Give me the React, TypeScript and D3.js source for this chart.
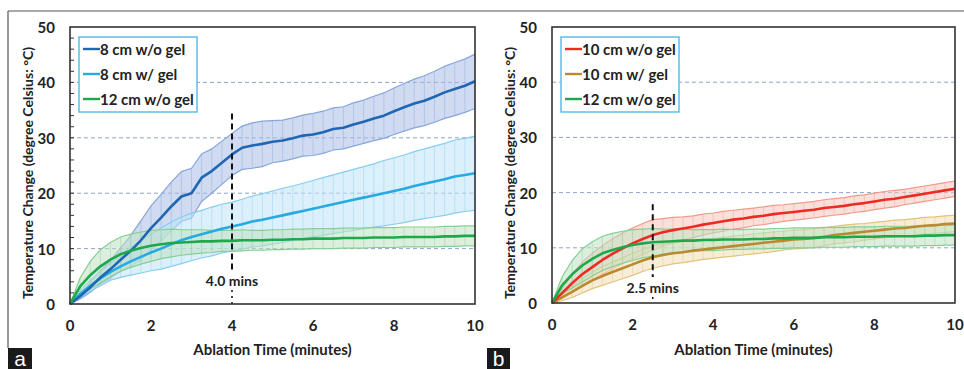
import React from "react";
import * as d3 from "d3";

// sampling times (minutes)
const time = [0, 0.25, 0.5, 0.75, 1, 1.25, 1.5, 1.75, 2, 2.25, 2.5, 2.75, 3, 3.25, 3.5, 3.75, 4, 4.25, 4.5, 4.75, 5, 5.25, 5.5, 5.75, 6, 6.25, 6.5, 6.75, 7, 7.25, 7.5, 7.75, 8, 8.25, 8.5, 8.75, 9, 9.25, 9.5, 9.75, 10];

// panel a
const cm8NoGel = [0, 1.4, 3.0, 4.8, 6.3, 8.0, 9.6, 11.5, 13.7, 15.6, 17.6, 19.4, 20.0, 22.8, 24.0, 25.5, 27.0, 28.2, 28.6, 28.9, 29.3, 29.5, 29.9, 30.4, 30.6, 31.0, 31.6, 31.8, 32.4, 32.9, 33.5, 34.0, 34.8, 35.5, 36.2, 36.7, 37.4, 38.2, 38.8, 39.4, 40.2];
const cm8NoGelSd = [0, 0.5, 0.9, 1.2, 1.6, 2.1, 2.8, 3.5, 4.0, 4.2, 4.4, 4.5, 4.5, 4.3, 4.0, 3.9, 3.8, 3.9, 4.1, 4.1, 3.8, 3.7, 3.7, 3.7, 3.8, 3.8, 3.8, 3.8, 3.9, 3.9, 4.0, 4.1, 4.2, 4.3, 4.4, 4.5, 4.6, 4.7, 4.8, 4.8, 4.9];
const cm8Gel = [0, 1.8, 3.3, 4.6, 5.8, 6.8, 7.7, 8.5, 9.3, 10.0, 10.8, 11.5, 12.1, 12.6, 13.1, 13.6, 14.0, 14.4, 14.9, 15.2, 15.6, 16.0, 16.4, 16.8, 17.2, 17.6, 18.0, 18.4, 18.8, 19.2, 19.6, 20.0, 20.4, 20.8, 21.3, 21.7, 22.1, 22.5, 23.0, 23.3, 23.6];
const cm8GelSd = [0, 0.6, 1.0, 1.3, 1.5, 2.0, 2.5, 2.9, 3.3, 3.7, 4.0, 4.2, 4.3, 4.3, 4.4, 4.4, 4.4, 4.5, 4.6, 4.7, 4.8, 4.9, 4.9, 5.0, 5.1, 5.2, 5.3, 5.4, 5.5, 5.6, 5.7, 5.9, 6.0, 6.1, 6.2, 6.3, 6.4, 6.5, 6.6, 6.6, 6.7];
const cm12NoGel = [0, 3.2, 5.2, 6.8, 8.0, 9.0, 9.6, 10.1, 10.5, 10.8, 11.0, 11.1, 11.2, 11.3, 11.3, 11.4, 11.4, 11.5, 11.5, 11.5, 11.6, 11.6, 11.7, 11.7, 11.8, 11.8, 11.8, 11.9, 11.9, 11.9, 12.0, 12.0, 12.0, 12.1, 12.1, 12.1, 12.1, 12.2, 12.2, 12.3, 12.3];
const cm12NoGelSd = [0, 1.5, 2.5, 3.0, 3.1, 3.1, 3.0, 2.9, 2.8, 2.6, 2.5, 2.3, 2.2, 2.1, 2.0, 1.9, 1.9, 1.9, 1.8, 1.8, 1.8, 1.8, 1.8, 1.8, 1.8, 1.8, 1.8, 1.8, 1.8, 1.8, 1.8, 1.8, 1.8, 1.8, 1.8, 1.8, 1.8, 1.8, 1.8, 1.8, 1.8];

// panel b
const cm10NoGel = [0, 1.8, 3.6, 5.2, 6.5, 7.8, 8.9, 9.9, 10.8, 11.6, 12.3, 12.8, 13.2, 13.5, 13.8, 14.2, 14.5, 14.8, 15.1, 15.3, 15.6, 15.8, 16.1, 16.3, 16.5, 16.7, 16.9, 17.2, 17.4, 17.6, 17.9, 18.1, 18.4, 18.7, 18.9, 19.2, 19.5, 19.8, 20.1, 20.4, 20.7];
const cm10NoGelSd = [0, 0.8, 1.6, 2.2, 2.5, 2.6, 2.7, 2.8, 2.8, 2.8, 2.8, 2.5, 2.3, 2.1, 2.0, 1.9, 1.8, 1.8, 1.7, 1.7, 1.6, 1.6, 1.6, 1.5, 1.5, 1.5, 1.5, 1.5, 1.5, 1.5, 1.5, 1.5, 1.5, 1.5, 1.5, 1.4, 1.4, 1.4, 1.4, 1.4, 1.4];
const cm10Gel = [0, 1.0, 2.0, 3.1, 4.1, 4.9, 5.6, 6.3, 7.0, 7.7, 8.3, 8.7, 9.0, 9.2, 9.5, 9.7, 9.9, 10.1, 10.3, 10.5, 10.7, 10.9, 11.1, 11.3, 11.5, 11.6, 11.8, 12.0, 12.3, 12.5, 12.7, 12.9, 13.1, 13.3, 13.5, 13.6, 13.8, 14.0, 14.1, 14.3, 14.4];
const cm10GelSd = [0, 0.6, 1.0, 1.3, 1.5, 1.7, 1.8, 1.9, 2.0, 2.0, 2.0, 2.0, 1.9, 1.9, 1.9, 1.8, 1.8, 1.8, 1.8, 1.8, 1.8, 1.8, 1.8, 1.7, 1.7, 1.7, 1.7, 1.6, 1.6, 1.6, 1.6, 1.5, 1.5, 1.5, 1.5, 1.5, 1.5, 1.5, 1.5, 1.5, 1.5];

const yTicks = [0, 10, 20, 30, 40, 50];
const xTicks = [0, 2, 4, 6, 8, 10];
const gridValues = [10, 20, 30, 40];
const minorTicks = [2, 4, 6, 8, 12, 14, 16, 18, 22, 24, 26, 28, 32, 34, 36, 38, 42, 44, 46, 48];

const FONT = "Lato, 'Open Sans', sans-serif";

type Series = {
  name: string;
  mean: number[];
  sd: number[];
  line: string;
  band: string;
  edge: string;
};

const seriesA: Series[] = [
  { name: "8 cm w/o gel", mean: cm8NoGel, sd: cm8NoGelSd, line: "#1f66b3", band: "#a9bde6", edge: "#86a6dc" },
  { name: "8 cm w/ gel", mean: cm8Gel, sd: cm8GelSd, line: "#27a9e1", band: "#bfe4f8", edge: "#86cdf0" },
  { name: "12 cm w/o gel", mean: cm12NoGel, sd: cm12NoGelSd, line: "#1ea84b", band: "#bfe2c2", edge: "#86cf94" },
];
const seriesB: Series[] = [
  { name: "10 cm w/o gel", mean: cm10NoGel, sd: cm10NoGelSd, line: "#ee2a24", band: "#f8c4bc", edge: "#f39a8c" },
  { name: "10 cm w/ gel", mean: cm10Gel, sd: cm10GelSd, line: "#b98a2f", band: "#f1dfb6", edge: "#e0c27c" },
  { name: "12 cm w/o gel", mean: cm12NoGel, sd: cm12NoGelSd, line: "#1ea84b", band: "#bfe2c2", edge: "#86cf94" },
];

type PanelProps = {
  left: number;
  right: number;
  top: number;
  bottom: number;
  series: Series[];
  drawOrder: number[];
  marker: number;
  markerTop: number;
  markerLabel: string;
  markerLabelY: number;
  legendX: number;
  minor: boolean;
  letter: string;
  letterX: number;
  letterW: number;
};

function Panel(p: PanelProps) {
  const x = d3.scaleLinear().domain([0, 10]).range([p.left, p.right]);
  const y = d3.scaleLinear().domain([0, 50]).range([p.bottom, p.top]);
  const idx = time.map((_, i) => i);

  const line = (s: Series) =>
    d3.line<number>().x((i) => x(time[i])).y((i) => y(s.mean[i]))(idx) || "";
  const area = (s: Series) =>
    d3
      .area<number>()
      .x((i) => x(time[i]))
      .y0((i) => y(Math.max(0, s.mean[i] - s.sd[i])))
      .y1((i) => y(s.mean[i] + s.sd[i]))(idx) || "";
  const upper = (s: Series) =>
    d3.line<number>().x((i) => x(time[i])).y((i) => y(s.mean[i] + s.sd[i]))(idx) || "";
  const lower = (s: Series) =>
    d3.line<number>().x((i) => x(time[i])).y((i) => y(Math.max(0, s.mean[i] - s.sd[i])))(idx) || "";

  const mx = x(p.marker);
  const cx = (p.left + p.right) / 2;

  return (
    <g>
      {/* grid */}
      {gridValues.map((v) => (
        <line key={v} x1={p.left} x2={p.right} y1={y(v)} y2={y(v)} stroke="#8ea3cc" strokeWidth={1} strokeDasharray="4,3" />
      ))}
      {/* error bands */}
      {p.series.map((s) => (
        <g key={s.name + "band"}>
          <path d={area(s)} fill={s.band} fillOpacity={0.55} />
          {idx.map((i) => (
            <line
              key={i}
              x1={x(time[i])}
              x2={x(time[i])}
              y1={y(Math.max(0, s.mean[i] - s.sd[i]))}
              y2={y(s.mean[i] + s.sd[i])}
              stroke={s.edge}
              strokeOpacity={0.5}
              strokeWidth={0.8}
            />
          ))}
          <path d={upper(s)} fill="none" stroke={s.edge} strokeWidth={1.2} />
          <path d={lower(s)} fill="none" stroke={s.edge} strokeWidth={1.2} />
        </g>
      ))}
      {/* mean lines */}
      {p.drawOrder.map((k) => (
        <path key={p.series[k].name + "line"} d={line(p.series[k])} fill="none" stroke={p.series[k].line} strokeWidth={2.6} strokeLinejoin="round" />
      ))}
      {/* marker */}
      <line x1={mx} x2={mx} y1={y(p.markerTop)} y2={p.markerLabelY - 10} stroke="#111" strokeWidth={2} strokeDasharray="6,4" />
      <line x1={mx} x2={mx} y1={p.markerLabelY + 10} y2={p.bottom} stroke="#111" strokeWidth={1.5} strokeDasharray="2,4" />
      <text x={mx} y={p.markerLabelY} textAnchor="middle" dominantBaseline="central" fontFamily={FONT} fontWeight="bold" fontSize={14} fill="#222">
        {p.markerLabel}
      </text>
      {/* frame */}
      <rect x={p.left} y={p.top} width={p.right - p.left} height={p.bottom - p.top} fill="none" stroke="#333" strokeWidth={1.6} />
      {p.minor &&
        minorTicks.concat(gridValues).map((v) => (
          <line key={"m" + v} x1={p.left} x2={p.left + 4} y1={y(v)} y2={y(v)} stroke="#333" strokeWidth={1} />
        ))}
      {/* y ticks */}
      {yTicks.map((v) => (
        <text key={"y" + v} x={p.left - 15} y={y(v)} textAnchor="end" dominantBaseline="central" fontFamily={FONT} fontWeight="bold" fontSize={15} fill="#222">
          {v}
        </text>
      ))}
      {/* x ticks */}
      {xTicks.map((v) => (
        <text key={"x" + v} x={x(v)} y={p.bottom + 21} textAnchor="middle" dominantBaseline="central" fontFamily={FONT} fontWeight="bold" fontSize={15} fill="#222">
          {v}
        </text>
      ))}
      <text x={cx} y={349} textAnchor="middle" dominantBaseline="central" fontFamily={FONT} fontWeight="bold" fontSize={15} fill="#222">
        Ablation Time (minutes)
      </text>
      <text
        transform={`translate(${p.left - 43},173) rotate(-90)`}
        textAnchor="middle"
        dominantBaseline="central"
        fontFamily={FONT}
        fontWeight="bold"
        fontSize={14}
        fill="#222"
      >
        Temperature Change (degree Celsius: °C)
      </text>
      {/* legend */}
      <rect x={p.legendX} y={37} width={118} height={75} fill="#fff" stroke="#5bbfea" strokeWidth={1.5} />
      {p.series.map((s, i) => (
        <g key={s.name + "leg"}>
          <line x1={p.legendX + 4} x2={p.legendX + 21} y1={49 + i * 25} y2={49 + i * 25} stroke={s.line} strokeWidth={2.4} />
          <text x={p.legendX + 21} y={49 + i * 25} dominantBaseline="central" fontFamily={FONT} fontWeight="bold" fontSize={15} fill="#222">
            {s.name}
          </text>
        </g>
      ))}
      {/* panel letter */}
      <rect x={p.letterX} y={348} width={p.letterW} height={21} fill="#1a1a1a" />
      <text x={p.letterX + p.letterW / 2} y={366} textAnchor="middle" fontFamily="'Liberation Sans', Arial, sans-serif" fontSize={21} fill="#fff">
        {p.letter}
      </text>
    </g>
  );
}

export default function App() {
  return (
    <svg width={964} height={369} style={{ position: "absolute", left: 0, top: 0, background: "#fff" }}>
      <rect width={964} height={369} fill="#fff" />
      <line x1={8} x2={964} y1={11} y2={11} stroke="#555" strokeWidth={1.2} />
      <line x1={8} x2={8} y1={11} y2={348} stroke="#555" strokeWidth={1.2} />
      <Panel
        left={70}
        right={475}
        top={27}
        bottom={304}
        series={seriesA}
        drawOrder={[1, 0, 2]}
        marker={4}
        markerTop={34.4}
        markerLabel="4.0 mins"
        markerLabelY={280}
        legendX={79}
        minor={true}
        letter="a"
        letterX={8}
        letterW={24}
      />
      <Panel
        left={552}
        right={955}
        top={27}
        bottom={303}
        series={seriesB}
        drawOrder={[1, 0, 2]}
        marker={2.5}
        markerTop={17.9}
        markerLabel="2.5 mins"
        markerLabelY={287}
        legendX={561}
        minor={false}
        letter="b"
        letterX={487}
        letterW={23}
      />
    </svg>
  );
}
